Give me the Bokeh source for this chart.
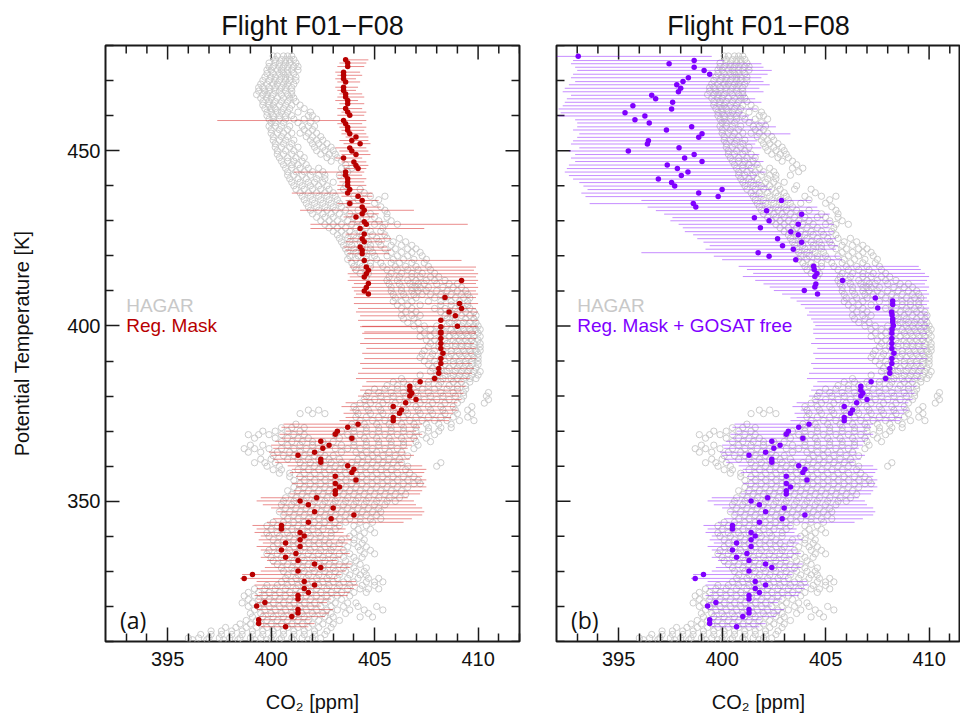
from bokeh.plotting import figure
from bokeh.layouts import row
from bokeh.models import FixedTicker, Label, Range1d
from bokeh.embed import file_html
from bokeh.resources import INLINE

# ---------------- data ----------------
x_ticks = [395, 400, 405, 410]
x_minor = [393, 394, 396, 397, 398, 399, 401, 402, 403, 404, 406, 407, 408, 409, 411, 412]
y_ticks = [350, 400, 450]
y_minor = [310, 320, 330, 340, 360, 370, 380, 390, 410, 420, 430, 440, 460, 470, 480]

# HAGAR in-situ CO2: theta levels and the CO2 values observed at each level
hagar_levels_odd = [477, 475, 473, 471, 469, 467, 465, 463, 461, 459, 457, 455, 453, 451, 449, 447, 445, 443,
                    441, 439, 437, 435, 433, 431, 429, 427, 425, 423, 421, 419, 417, 415, 413, 411, 409, 407,
                    405, 403, 401, 399, 397, 395, 393, 391, 389, 387, 385, 383, 381, 379, 377, 375, 373, 371,
                    369, 367, 365, 363, 361, 359, 357, 355, 353, 351, 349, 347, 345, 343, 341, 339, 337, 335,
                    333, 331, 329, 327, 325, 323, 321, 319, 317, 315, 313, 311]
hagar_co2_odd = [
    [400.1, 400.3, 400.6, 400.8, 401.0],
    [399.9, 400.2, 400.4, 400.7, 400.9, 401.2],
    [399.8, 400.0, 400.3, 400.5, 400.8, 401.0, 401.3],
    [399.7, 400.0, 400.2, 400.5, 400.7, 400.9, 401.2],
    [399.5, 399.8, 400.1, 400.3, 400.6, 400.8, 401.1],
    [399.4, 399.7, 399.9, 400.2, 400.4, 400.7, 401.0],
    [399.5, 399.8, 400.0, 400.3, 400.6, 400.9, 401.1],
    [399.6, 399.9, 400.1, 400.4, 400.7, 401.0, 401.4],
    [399.8, 400.0, 400.3, 400.5, 400.8, 401.3, 401.9],
    [399.9, 400.1, 400.4, 400.7, 401.1, 401.6, 402.2],
    [399.9, 400.2, 400.5, 400.9, 401.5, 401.8, 402.1],
    [400.0, 400.3, 400.6, 401.0, 401.4, 401.8, 402.2],
    [400.1, 400.4, 400.7, 401.1, 401.9, 402.2, 402.5],
    [400.2, 400.5, 400.9, 401.3, 402.1, 402.5, 402.9],
    [400.3, 400.6, 401.0, 401.4, 402.4, 402.8, 403.1],
    [400.5, 400.8, 401.1, 401.5, 402.9, 403.4],
    [400.7, 401.0, 401.4, 401.8, 402.3, 403.4, 403.9],
    [400.8, 401.1, 401.5, 401.9, 402.3, 402.6, 403.3],
    [401.0, 401.4, 401.8, 402.1, 402.5, 403.0],
    [401.2, 401.6, 402.0, 402.4, 402.8, 403.5, 404.3],
    [401.5, 401.9, 402.3, 402.7, 403.1, 404.0, 404.8, 405.5],
    [401.7, 402.1, 402.5, 402.9, 403.3, 403.8, 405.0],
    [401.9, 402.3, 402.7, 403.1, 403.6, 404.2, 405.5],
    [402.2, 402.6, 403.0, 403.5, 404.0, 404.6, 405.0, 405.6],
    [402.6, 403.0, 403.4, 403.9, 404.4, 405.0, 405.5, 406.1],
    [403.0, 403.4, 403.8, 404.3, 404.8, 405.3],
    [403.3, 403.7, 404.1, 404.6, 405.1, 405.6, 406.2],
    [403.5, 403.9, 404.4, 404.8, 405.3, 405.8, 406.3, 406.8],
    [403.7, 404.1, 404.5, 404.9, 405.8, 406.3, 406.8, 407.2],
    [403.7, 404.1, 404.6, 405.1, 405.9, 406.4, 406.9, 407.5],
    [404.0, 404.4, 404.8, 405.4, 406.0, 406.5, 407.0, 407.6],
    [404.3, 404.7, 405.8, 406.3, 406.8, 407.3, 407.9],
    [405.6, 406.1, 406.6, 407.0, 407.5, 407.9, 408.4],
    [405.8, 406.3, 406.8, 407.0, 407.2, 407.6, 408.3, 408.8, 409.2],
    [405.9, 406.4, 406.9, 407.3, 407.7, 408.2, 408.7, 409.2, 409.5],
    [405.9, 406.3, 406.8, 407.6, 408.2, 408.7, 409.1, 409.5],
    [406.3, 406.8, 407.9, 408.4, 408.9, 409.3, 409.6],
    [406.3, 406.8, 407.2, 408.4, 408.8, 409.2, 409.6, 409.9],
    [406.6, 407.1, 408.6, 409.0, 409.3, 409.6, 409.9],
    [407.2, 407.7, 408.2, 408.7, 409.0, 409.3, 409.6, 409.9, 410.1],
    [407.2, 407.7, 408.2, 408.6, 408.9, 409.2, 409.5, 409.8, 410.1],
    [407.7, 408.1, 408.5, 408.9, 409.2, 409.5, 409.8, 410.1],
    [407.4, 407.9, 408.3, 408.7, 409.0, 409.3, 409.6, 409.9, 410.1],
    [407.2, 407.7, 408.2, 408.6, 408.9, 409.2, 409.5, 409.8, 410.0],
    [407.6, 408.0, 408.4, 408.8, 409.1, 409.4, 409.7, 410.0],
    [407.7, 408.1, 408.5, 408.9, 409.2, 409.5, 409.8, 410.1],
    [406.3, 407.9, 408.3, 408.7, 409.0, 409.3, 409.6, 409.9],
    [405.6, 406.1, 406.6, 407.1, 407.6, 408.1, 408.6, 409.0, 409.4],
    [404.7, 405.2, 405.8, 406.4, 407.0, 407.6, 408.2, 408.8, 409.3, 410.5],
    [404.5, 405.0, 405.6, 406.2, 406.8, 407.4, 408.0, 408.6, 409.2, 410.5],
    [404.0, 404.6, 405.2, 405.8, 406.4, 407.0, 407.6, 408.2, 408.8, 409.7],
    [401.4, 402.0, 402.6, 404.2, 404.8, 405.4, 406.0, 406.6, 407.2, 407.8, 408.4, 409.0, 409.7],
    [404.3, 404.9, 405.5, 406.1, 406.7, 407.3, 407.9, 408.5, 409.1, 409.8],
    [400.5, 401.0, 401.6, 404.0, 404.6, 405.2, 405.8, 406.4, 407.0, 407.6, 408.2, 408.7],
    [398.9, 399.4, 399.9, 400.5, 401.1, 401.6, 403.1, 403.7, 404.3, 404.9, 405.5, 406.1, 406.7, 407.3, 407.9],
    [400.5, 401.0, 401.5, 402.0, 402.5, 403.0, 404.0, 404.6, 405.2, 405.8, 406.4, 407.0, 407.7],
    [398.7, 399.2, 399.9, 400.5, 401.1, 401.7, 402.3, 403.1, 403.7, 404.3, 404.9, 405.5, 406.1, 406.9],
    [400.1, 400.6, 401.1, 401.6, 402.1, 402.6, 403.0, 404.4, 404.9, 405.4, 406.0, 406.6],
    [399.2, 399.7, 400.2, 401.4, 401.9, 402.4, 402.9, 403.4, 403.9, 404.4, 404.9, 405.4, 405.9, 406.3, 408.2],
    [400.1, 400.5, 401.3, 401.8, 402.3, 402.8, 403.3, 403.8, 404.3, 404.8, 405.3, 405.8, 406.5],
    [400.9, 401.4, 401.9, 402.4, 402.9, 403.4, 403.9, 404.4, 404.9, 405.4, 405.9, 406.4, 406.9],
    [401.4, 401.9, 402.4, 402.9, 403.4, 403.9, 404.4, 404.9, 405.4, 405.9, 406.4, 406.9, 407.2],
    [400.8, 401.3, 401.8, 402.3, 402.8, 403.3, 403.8, 404.3, 404.8, 405.3, 405.8, 406.3],
    [400.7, 401.2, 401.7, 402.2, 402.7, 403.2, 403.7, 404.2, 404.7, 405.2, 405.7, 406.2],
    [400.5, 401.0, 401.5, 402.0, 402.5, 403.0, 403.5, 404.0, 404.5, 405.0, 405.5],
    [400.4, 400.9, 401.4, 401.9, 402.4, 402.9, 403.4, 403.9, 404.4, 404.9, 405.3],
    [400.8, 401.3, 401.8, 402.3, 402.8, 403.3, 403.8, 404.3, 404.8, 405.3],
    [399.8, 400.3, 400.8, 401.3, 401.8, 402.3, 402.8, 403.3, 404.0, 404.6],
    [399.8, 400.3, 400.8, 401.3, 401.8, 402.3, 402.9, 404.0, 404.5, 405.0],
    [400.1, 400.6, 401.1, 401.6, 402.1, 402.6, 403.4, 404.0, 404.5],
    [400.1, 400.6, 401.1, 401.6, 402.1, 402.6, 403.0, 403.7, 404.2, 404.6],
    [399.8, 400.3, 400.8, 401.3, 401.8, 402.3, 402.8, 403.3, 403.8, 404.5, 405.0],
    [400.1, 400.6, 401.1, 401.6, 402.1, 402.6, 403.1, 403.6, 404.1],
    [400.5, 401.0, 401.5, 402.0, 402.5, 403.0, 403.5, 404.0, 404.6],
    [400.8, 401.3, 401.8, 402.3, 402.8, 403.3, 403.8, 404.3, 404.6],
    [400.5, 401.0, 401.5, 402.0, 402.5, 403.0, 403.5, 404.0, 404.6, 405.0, 405.4],
    [399.2, 399.7, 400.2, 400.7, 401.2, 401.7, 402.2, 402.7, 403.2, 403.7, 404.3, 404.7, 405.2],
    [398.7, 399.2, 399.7, 400.2, 400.7, 401.2, 401.7, 402.2, 402.7, 403.2, 403.8],
    [398.6, 399.1, 399.6, 400.1, 400.6, 401.1, 401.6, 402.1, 402.6, 403.1, 403.7, 404.1],
    [399.2, 399.7, 400.2, 400.7, 401.2, 401.7, 402.2, 402.7, 403.2, 403.8, 404.5, 405.4],
    [399.1, 399.6, 400.1, 400.6, 401.1, 401.6, 402.1, 402.6, 403.0, 404.3, 404.9],
    [398.5, 399.0, 399.5, 400.0, 400.5, 401.0, 401.5, 402.0, 402.5, 403.0],
    [397.1, 397.6, 398.1, 398.6, 399.1, 399.6, 400.1, 400.6, 401.1, 401.6, 402.1, 402.7],
    [396.0, 396.5, 397.0, 397.5, 398.0, 398.5, 399.0, 399.5, 400.0, 400.5, 401.0, 401.5, 402.0, 402.4],
]
hagar_levels_even = [476, 474, 472, 470, 468, 466, 464, 462, 460, 458, 456, 454, 452, 450, 448, 446, 444, 442,
                     440, 438, 436, 434, 432, 430, 428, 426, 424, 422, 420, 418, 416, 414, 412, 410, 408, 406,
                     404, 402, 400, 398, 396, 394, 392, 390, 388, 386, 384, 382, 380, 378, 376, 374, 372, 370,
                     368, 366, 364, 362, 360, 358, 356, 354, 352, 350, 348, 346, 344, 342, 340, 338, 336, 334,
                     332, 330, 328, 326, 324, 322, 320, 318, 316, 314, 312, 310.5]
hagar_co2_even = [
    [400.2, 400.5, 400.7, 400.9, 401.1],
    [399.9, 400.1, 400.4, 400.6, 400.8, 401.1, 401.3],
    [399.8, 400.1, 400.4, 400.6, 400.8, 401.1],
    [399.6, 399.9, 400.2, 400.4, 400.7, 400.9, 401.2],
    [399.4, 399.6, 399.9, 400.2, 400.5, 400.7, 401.0],
    [399.3, 399.6, 399.8, 400.1, 400.5, 400.8, 401.0],
    [399.6, 399.9, 400.2, 400.5, 400.8, 401.2],
    [399.7, 400.0, 400.2, 400.6, 400.9, 401.6],
    [399.8, 400.1, 400.4, 400.7, 401.0, 401.8, 402.0],
    [400.0, 400.2, 400.6, 401.3, 401.9],
    [400.0, 400.4, 400.8, 401.6, 402.0],
    [400.1, 400.5, 400.8, 401.7, 402.0, 402.4],
    [400.2, 400.6, 401.0, 402.0, 402.3, 402.7],
    [400.3, 400.7, 401.1, 402.2, 402.6, 403.0],
    [400.4, 400.8, 401.2, 401.6, 402.7, 403.2],
    [400.6, 401.0, 401.3, 401.7, 403.6],
    [400.8, 401.2, 401.6, 402.0, 402.5, 403.7],
    [400.9, 401.3, 401.7, 402.2, 402.6],
    [401.1, 401.5, 401.9, 402.3, 402.7, 403.6],
    [401.4, 401.8, 402.2, 402.6, 403.0, 404.5],
    [401.6, 402.0, 402.4, 402.8, 403.2, 404.2, 405.2],
    [401.8, 402.2, 402.6, 403.0, 403.4, 405.3],
    [402.0, 402.5, 402.9, 403.3, 403.8, 404.8, 405.6],
    [402.4, 402.8, 403.2, 403.7, 404.2, 405.2, 405.8],
    [402.8, 403.2, 403.6, 404.1, 404.6, 405.4],
    [403.2, 403.6, 404.0, 404.4, 404.9, 405.5],
    [403.4, 403.8, 404.3, 404.7, 405.2, 405.9, 406.5],
    [403.6, 404.0, 404.4, 404.8, 405.5, 406.0, 406.6, 407.0],
    [403.8, 404.2, 404.6, 405.0, 405.6, 406.1, 406.6, 407.3],
    [403.9, 404.3, 404.8, 405.3, 405.8, 406.2, 406.8, 407.4],
    [404.1, 404.6, 405.6, 406.1, 406.6, 407.1, 407.7],
    [404.6, 405.7, 406.2, 406.8, 407.2, 407.7, 408.1],
    [405.7, 406.2, 406.7, 407.1, 407.4, 408.0, 408.6, 409.0],
    [405.8, 406.3, 406.8, 407.1, 407.5, 408.0, 408.5, 409.0, 409.4],
    [406.0, 406.5, 407.0, 407.9, 408.4, 408.9, 409.3, 409.6],
    [406.1, 406.6, 407.2, 408.2, 408.7, 409.1, 409.5],
    [406.5, 407.0, 408.2, 408.6, 409.0, 409.4, 409.8],
    [406.4, 406.9, 408.5, 408.9, 409.4, 409.8],
    [406.9, 407.4, 408.0, 408.5, 408.9, 409.2, 409.5, 409.8, 410.0],
    [407.4, 407.9, 408.4, 408.8, 409.1, 409.4, 409.7, 410.0],
    [407.5, 407.9, 408.4, 408.8, 409.1, 409.4, 409.7, 410.0],
    [407.6, 408.1, 408.5, 408.9, 409.2, 409.5, 409.8, 410.1],
    [407.3, 407.8, 408.3, 408.7, 409.1, 409.4, 409.7, 410.0],
    [407.4, 407.9, 408.4, 408.8, 409.1, 409.4, 409.7, 410.0],
    [407.8, 408.2, 408.6, 409.0, 409.3, 409.6, 409.9],
    [407.2, 408.0, 408.4, 408.8, 409.1, 409.4, 409.7, 410.0],
    [405.9, 406.4, 407.0, 407.6, 408.2, 408.8, 409.2, 409.6],
    [405.0, 405.5, 406.1, 406.7, 407.3, 407.9, 408.5, 409.0, 409.4],
    [404.6, 405.3, 405.9, 406.5, 407.1, 407.7, 408.3, 408.9, 409.3, 410.4],
    [404.3, 404.8, 405.4, 406.0, 406.6, 407.2, 407.8, 408.4, 409.0, 410.3],
    [401.8, 402.3, 404.1, 404.7, 405.3, 405.9, 406.5, 407.1, 407.7, 408.3, 408.9, 409.5],
    [404.1, 404.6, 405.2, 405.8, 406.4, 407.0, 407.6, 408.2, 408.8, 409.5],
    [401.2, 403.9, 404.5, 405.1, 405.7, 406.3, 406.9, 407.5, 408.1, 408.7],
    [399.6, 400.2, 400.8, 401.4, 403.4, 404.0, 404.6, 405.2, 405.8, 406.4, 407.0, 407.6, 408.1],
    [399.2, 400.2, 400.8, 401.3, 401.8, 403.3, 403.9, 404.5, 405.1, 405.7, 406.3, 406.9, 407.5],
    [399.0, 399.6, 400.8, 401.4, 402.0, 402.6, 403.4, 404.0, 404.6, 405.2, 405.8, 406.4, 407.1],
    [398.9, 399.5, 400.3, 400.9, 401.4, 401.9, 402.4, 403.4, 404.1, 404.6, 405.1, 405.7, 406.3],
    [399.5, 400.0, 400.8, 401.3, 401.8, 402.3, 402.8, 403.3, 404.2, 404.7, 405.2, 405.7, 406.2],
    [399.8, 400.4, 401.6, 402.1, 402.6, 403.1, 403.6, 404.1, 404.6, 405.1, 405.6, 406.1, 406.6, 408.0],
    [400.4, 400.9, 401.6, 402.1, 402.6, 403.1, 403.6, 404.1, 404.6, 405.1, 405.6, 406.1, 406.7],
    [401.1, 401.6, 402.1, 402.6, 403.1, 403.6, 404.1, 404.6, 405.1, 405.6, 406.1, 406.6, 407.1],
    [401.1, 401.6, 402.1, 402.6, 403.1, 403.6, 404.1, 404.6, 405.1, 405.6, 406.1, 406.6],
    [401.0, 401.5, 402.0, 402.5, 403.0, 403.5, 404.0, 404.5, 405.0, 405.5, 406.0, 406.5],
    [400.6, 401.1, 401.6, 402.1, 402.6, 403.1, 403.6, 404.1, 404.6, 405.1, 405.6, 406.0],
    [400.7, 401.2, 401.7, 402.2, 402.7, 403.2, 403.7, 404.2, 404.7, 405.2],
    [400.6, 401.1, 401.6, 402.1, 402.6, 403.1, 403.6, 404.1, 404.6, 405.1],
    [400.1, 400.6, 401.1, 401.6, 402.1, 402.6, 403.1, 403.6, 404.3, 404.9],
    [400.0, 400.5, 401.0, 401.5, 402.0, 402.5, 403.1, 404.2, 404.8],
    [399.9, 400.4, 400.9, 401.4, 401.9, 402.4, 402.9, 403.8, 404.3],
    [400.3, 400.8, 401.3, 401.8, 402.3, 402.8, 403.3, 404.0, 404.4],
    [399.9, 400.4, 400.9, 401.4, 401.9, 402.4, 402.9, 403.5, 404.3, 404.8],
    [400.0, 400.5, 401.0, 401.5, 402.0, 402.5, 403.0, 403.5, 404.0, 404.4],
    [400.3, 400.8, 401.3, 401.8, 402.3, 402.8, 403.3, 403.8, 404.3],
    [400.6, 401.1, 401.6, 402.1, 402.6, 403.1, 403.6, 404.1, 404.5],
    [400.7, 401.2, 401.7, 402.2, 402.7, 403.2, 403.7, 404.2, 404.7, 405.2],
    [399.8, 400.3, 400.8, 401.3, 401.8, 402.3, 402.8, 403.3, 403.8, 404.4, 405.0],
    [398.9, 399.4, 399.9, 400.4, 400.9, 401.4, 401.9, 402.4, 402.9, 403.4, 404.0, 404.6],
    [398.9, 399.4, 399.9, 400.4, 400.9, 401.4, 401.9, 402.4, 402.9, 403.4],
    [398.9, 399.4, 399.9, 400.4, 400.9, 401.4, 401.9, 402.4, 402.9, 403.5, 404.2, 405.1],
    [399.0, 399.5, 400.0, 400.5, 401.0, 401.5, 402.0, 402.5, 402.9, 403.6, 404.7],
    [398.8, 399.3, 399.8, 400.3, 400.8, 401.3, 401.8, 402.3, 402.8, 403.3],
    [397.8, 398.3, 398.8, 399.3, 399.8, 400.3, 400.8, 401.3, 401.8, 402.3, 402.9],
    [396.6, 397.1, 397.6, 398.1, 398.6, 399.1, 399.6, 400.1, 400.6, 401.1, 401.6, 402.1, 402.6],
    [396.2, 396.9, 397.7, 398.4, 399.2, 399.8, 400.4, 401.1, 401.8],
]

# Panel (a) "Reg. Mask": upper part (theta, CO2, bar low, bar high)
upper_a_theta = [475.9, 475.0, 474.0, 472.4, 471.5, 470.5, 469.6, 468.1, 467.2, 466.2, 465.3, 464.3, 463.4,
                 462.0, 461.0, 460.1, 458.6, 457.7, 456.7, 455.8, 454.8, 453.9, 452.9, 452.0, 450.8, 449.9,
                 448.9, 447.9, 446.8, 445.8, 444.9, 443.9, 443.0, 442.0, 441.1, 440.1, 438.9, 437.9, 437.0,
                 435.8, 434.9, 433.9, 433.0, 432.0, 431.1, 429.7, 429.0, 427.8, 426.2, 424.9, 424.0, 422.5,
                 421.6, 420.6, 418.7, 416.8, 415.9, 414.9, 414.0, 412.1, 411.0, 410.0, 409.1,
                 413.0, 408.1, 406.4, 405.0, 404.0, 402.9, 401.6, 399.9, 399.8, 398.3]
upper_a_co2 = [403.6, 403.7, 403.7, 403.5, 403.5, 403.5, 403.6, 403.5, 403.5, 403.6, 403.6, 403.7, 403.7,
               403.6, 403.7, 403.8, 403.5, 403.6, 403.7, 403.7, 403.8, 404.1, 403.9, 404.3, 403.8, 403.9,
               404.1, 403.5, 404.0, 404.1, 404.2, 403.6, 403.6, 403.7, 403.7, 403.7, 403.8, 403.7, 404.2,
               404.4, 403.8, 404.4, 404.5, 404.4, 404.1, 404.5, 404.6, 404.3, 404.5, 404.4, 404.5, 404.3,
               404.4, 404.4, 404.5, 404.6, 404.7, 404.6, 404.5, 404.7, 404.6, 404.5, 404.7,
               409.2, 408.4, 409.1, 409.2, 408.6, 408.9, 408.2, 409.0, 408.2, 408.2]
upper_a_lo = [403.6, 403.3, 403.2, 403.1, 403.2, 403.1, 403.2, 403.1, 403.2, 403.3, 403.2, 403.1, 403.3,
              403.2, 403.4, 403.2, 397.4, 403.2, 403.3, 403.4, 403.4, 403.6, 403.3, 403.5, 403.1, 403.3,
              403.4, 403.1, 403.4, 403.5, 403.5, 401.1, 403.2, 403.2, 403.3, 403.2, 403.2, 401.0, 403.4,
              403.6, 403.2, 403.6, 401.4, 403.7, 403.5, 403.8, 401.9, 401.9, 403.6, 403.7, 403.6, 403.5,
              403.6, 403.7, 403.7, 403.8, 403.9, 403.7, 403.8, 404.0, 403.9, 404.0, 404.1,
              403.7, 404.0, 404.0, 404.2, 404.1, 404.3, 404.2, 404.4, 404.3, 404.5]
upper_a_hi = [404.7, 404.6, 404.5, 404.3, 404.4, 404.1, 404.3, 404.2, 404.1, 404.4, 404.5, 404.2, 404.5,
              404.4, 404.6, 404.5, 404.6, 404.4, 404.6, 404.5, 404.6, 404.7, 404.7, 404.8, 404.6, 404.7,
              404.8, 404.4, 404.6, 404.7, 404.6, 404.5, 404.4, 404.6, 404.5, 404.6, 404.5, 404.9, 404.9,
              405.2, 404.8, 405.3, 406.9, 405.2, 405.0, 405.4, 409.5, 407.4, 405.6, 405.8, 405.5, 405.6,
              405.8, 405.7, 409.2, 409.9, 409.8, 410.0, 409.9, 409.9, 410.0, 409.9, 410.0,
              410.0, 409.9, 410.0, 409.9, 410.0, 409.9, 410.0, 409.9, 410.0, 409.9]

# Panel (b) "Reg. Mask + GOSAT free": upper part
upper_b_theta = [476.9, 475.7, 474.8, 473.8, 472.9, 471.8, 470.8, 469.7, 468.8, 467.8, 466.8, 465.8, 464.8,
                 463.8, 462.8, 461.9, 460.8, 459.9, 458.8, 457.9, 456.8, 455.9, 454.8, 453.8, 452.8, 451.9,
                 450.8, 449.9, 448.9, 447.9, 446.9, 445.9, 444.9, 443.9, 442.9, 441.9, 440.9, 439.9, 438.9,
                 437.9, 436.9, 435.8, 434.9, 433.9, 432.9, 431.9, 430.9, 430.0, 429.0, 428.0, 426.9, 426.0,
                 424.9, 423.9, 422.9, 421.9, 420.9, 419.9, 418.9, 417.0, 416.1, 415.0, 414.1, 413.0, 412.0,
                 411.1, 410.1, 409.1, 408.0, 407.1, 406.1, 405.1, 404.0, 403.1, 402.0, 401.1, 400.1, 399.1]
upper_b_co2 = [393.05, 398.65, 397.44, 398.65, 399.13, 399.40, 398.37, 398.11, 397.81, 398.0, 397.89, 396.60,
               396.79, 397.61, 395.69, 397.56, 395.31, 396.27, 395.79, 396.48, 398.53, 397.31, 399.03, 398.87,
               396.44, 396.39, 397.92, 395.47, 398.65, 398.19, 399.03, 397.35, 397.84, 398.35, 398.03, 396.92,
               397.56, 397.71, 400.0, 398.87, 399.81, 402.87, 398.61, 398.73, 402.15, 403.84, 401.56, 402.27,
               403.68, 401.85, 403.32, 403.68, 402.68, 403.84, 402.92, 403.44, 401.74, 402.27, 403.56, 404.42,
               404.45, 404.58, 404.48, 405.82, 404.53, 404.48, 403.97, 404.61, 407.40, 408.24, 408.24, 407.52,
               408.19, 408.21, 408.24, 408.24, 408.27, 408.21]
upper_b_lo = [392.0, 392.8, 392.7, 392.9, 393.0, 392.8, 392.7, 392.9, 392.6, 392.4, 392.3, 392.7, 392.5,
              392.4, 392.3, 392.1, 392.2, 392.1, 392.9, 393.0, 393.0, 392.8, 393.1, 393.0, 392.8, 392.7,
              393.1, 392.6, 392.9, 392.7, 392.9, 392.6, 392.5, 392.4, 392.6, 392.8, 393.1, 393.3, 393.5,
              393.2, 393.4, 396.1, 393.6, 396.4, 396.8, 397.2, 397.6, 397.5, 397.9, 398.1, 398.2, 398.6,
              398.8, 399.1, 399.4, 399.2, 396.1, 399.6, 400.0, 400.8, 401.2, 401.5, 401.0, 401.6, 402.0,
              402.3, 402.5, 402.9, 403.3, 403.6, 403.8, 404.0, 404.2, 404.1, 404.3, 404.4, 404.5, 404.4]
upper_b_hi = [399.5, 400.1, 401.9, 402.0, 402.4, 402.2, 401.9, 402.0, 402.3, 401.8, 402.0, 401.2, 401.6,
              401.9, 400.9, 401.7, 401.0, 401.3, 401.5, 402.2, 402.6, 402.0, 403.3, 401.8, 401.7, 401.6,
              401.9, 401.4, 401.8, 401.7, 402.0, 401.8, 401.5, 402.1, 401.7, 401.6, 401.9, 402.2, 402.4,
              401.8, 402.0, 404.3, 402.1, 404.6, 404.7, 405.2, 404.9, 405.3, 405.4, 405.2, 405.4, 405.3,
              405.5, 405.4, 405.6, 405.5, 404.4, 405.7, 405.8, 409.5, 409.6, 409.8, 410.0, 409.9, 409.8,
              410.0, 409.9, 410.0, 409.9, 410.0, 409.9, 410.0, 409.9, 410.0, 410.0, 409.9, 410.0, 409.9]

# Lower part (below ~398 K), common to both panels
lower_theta = [397.9, 396.4, 395.0, 393.6, 392.2, 390.7, 389.3, 387.9, 386.5, 385.0,
               384.1, 382.8, 381.7, 380.8, 380.0, 379.0, 378.1, 377.0, 376.0, 375.1, 373.9, 373.0,
               372.0, 371.1, 370.0, 369.1, 368.0, 367.1, 366.0, 365.1, 364.0, 363.1, 362.0, 361.1,
               360.1, 359.1, 358.2, 357.1, 356.1, 355.1, 354.1, 353.0, 352.1, 351.0, 350.1,
               349.0, 348.1, 347.0, 346.1, 345.0, 344.0, 343.1, 342.1, 341.1, 340.1,
               339.0, 338.1, 337.1, 336.1, 335.1, 334.0, 333.1, 332.1, 331.1, 330.1,
               329.1, 328.0, 327.1, 326.1, 325.1, 324.0, 323.1, 322.1, 321.1, 320.1,
               319.1, 318.1, 317.1, 316.2, 315.1, 314.2]
lower_co2 = [408.2, 408.2, 408.2, 408.2, 408.3, 408.2, 408.2, 408.1, 408.1, 407.9,
             407.2, 406.7, 406.7, 406.8, 406.7, 407.0, 406.5, 405.9, 406.3, 406.2, 405.9, 405.9,
             404.2, 403.7, 403.2, 403.1, 403.9, 402.4, 402.8, 402.5, 402.1, 401.3, 402.4, 402.4,
             403.7, 404.0, 403.9, 403.1, 404.1, 403.1, 403.3, 403.1, 403.1, 402.2, 401.4,
             401.8, 403.0, 402.1, 404.0, 402.9, 401.8, 400.5, 400.5, 401.4, 401.6,
             401.4, 400.7, 401.4, 400.5, 401.2, 400.7, 401.3, 402.1, 402.4, 401.3,
             399.1, 398.7, 401.6, 402.1, 401.6, 401.8, 401.3, 401.3, 399.7, 399.3,
             401.3, 401.3, 401.0, 399.4, 399.4, 400.7]
lower_lo = [404.4, 404.5, 404.3, 404.6, 404.4, 404.5, 404.3, 404.4, 404.2, 404.1,
            404.6, 404.4, 404.3, 404.5, 404.2, 404.4, 403.6, 403.4, 403.8, 403.5, 403.6, 403.3,
            400.6, 400.5, 400.7, 400.4, 400.5, 400.2, 400.0, 400.1, 399.9, 400.0, 400.1, 400.2,
            400.8, 401.0, 400.9, 401.2, 401.3, 401.0, 401.2, 401.1, 400.9, 399.5, 399.3,
            399.6, 400.0, 400.3, 400.5, 400.1, 399.8, 399.1, 399.3, 399.2, 399.5,
            399.4, 399.6, 399.3, 399.5, 399.7, 399.5, 399.8, 400.0, 399.7, 399.5,
            398.6, 398.5, 399.3, 399.2, 399.3, 399.4, 399.2, 399.3, 399.3, 399.2,
            399.3, 399.5, 399.4, 399.3, 399.4, 399.5]
lower_hi = [409.9, 409.9, 409.8, 409.9, 409.8, 409.9, 409.7, 409.8, 409.7, 409.6,
            409.3, 409.4, 409.2, 409.3, 409.1, 409.2, 409.0, 408.9, 409.0, 408.8, 408.7, 408.6,
            407.3, 407.2, 407.0, 407.3, 407.1, 406.9, 406.8, 406.6, 406.5, 406.9, 406.7, 406.4,
            407.3, 407.5, 407.4, 407.3, 407.5, 407.4, 407.5, 407.3, 407.2, 406.6, 406.9,
            407.0, 407.3, 407.4, 407.3, 406.8, 406.4, 403.4, 403.6, 403.5, 403.8,
            403.9, 403.7, 403.5, 403.6, 403.8, 403.4, 403.2, 403.9, 403.8, 403.6,
            403.4, 403.2, 404.1, 404.2, 404.0, 403.8, 403.7, 402.9, 402.7, 402.4,
            403.0, 402.8, 402.6, 401.9, 402.1, 401.8]

# ---------------- helpers ----------------
hx, hy = [], []
for levels, rows_ in ((hagar_levels_odd, hagar_co2_odd), (hagar_levels_even, hagar_co2_even)):
    for lev, vals in zip(levels, rows_):
        for v in vals:
            hx.append(v)
            hy.append(lev)

FONT = "Liberation Sans"
INK = "#1a1a1a"
X_START, Y_START, Y_END = 392, 310, 480
FRAME_H = 596
PPM_PX = 20.7                      # pixels per ppm (both panels)
PPK_PX = FRAME_H / (Y_END - Y_START)  # pixels per kelvin
MAJ_LEN, MIN_LEN = 14, 8


def style_axis(ax):
    ax.axis_line_color = None
    ax.major_tick_in = MAJ_LEN
    ax.major_tick_out = 0
    ax.minor_tick_in = MIN_LEN
    ax.minor_tick_out = 0
    ax.major_tick_line_width = 1.5
    ax.minor_tick_line_width = 1.5
    ax.major_tick_line_color = INK
    ax.minor_tick_line_color = INK
    ax.major_label_text_font = FONT
    ax.major_label_text_font_size = "20px"
    ax.major_label_text_color = "#111111"
    ax.axis_label_text_font = FONT
    ax.axis_label_text_font_size = "20px"
    ax.axis_label_text_font_style = "normal"
    ax.axis_label_text_color = "#111111"


def add_inner_ticks(p, side, x_end):
    """Inward tick marks on a side that carries no labels (top, right or left)."""
    x0s, x1s, y0s, y1s = [], [], [], []
    if side == "top":
        for t in x_ticks + x_minor:
            L = MAJ_LEN if t in x_ticks else MIN_LEN
            x0s.append(t); x1s.append(t)
            y0s.append(Y_END); y1s.append(Y_END - L / PPK_PX)
    else:
        edge = x_end if side == "right" else X_START
        sign = -1 if side == "right" else 1
        for t in y_ticks + y_minor:
            L = MAJ_LEN if t in y_ticks else MIN_LEN
            x0s.append(edge); x1s.append(edge + sign * L / PPM_PX)
            y0s.append(t); y1s.append(t)
    p.segment(x0=x0s, y0=y0s, x1=x1s, y1=y1s, line_color=INK, line_width=1.5)


def make_panel(theta, co2, lo, hi, dot_color, bar_color, legend_text, tag, first, x_end):
    fw = int(round((x_end - X_START) * PPM_PX))
    p = figure(frame_width=fw, frame_height=FRAME_H,
               x_range=Range1d(X_START, x_end), y_range=Range1d(Y_START, Y_END),
               output_backend="svg", toolbar_location=None,
               min_border_left=105 if first else 27, min_border_right=10 if first else 0,
               min_border_top=45, min_border_bottom=70,
               outline_line_color=INK, outline_line_width=2,
               background_fill_color="white", border_fill_color="white")
    p.grid.visible = False
    p.title.text = "Flight F01\u2212F08"
    p.title.align = "center"
    p.title.text_font = FONT
    p.title.text_font_size = "27px"
    p.title.text_font_style = "normal"
    p.title.text_color = "#111111"
    p.title.standoff = 9

    p.xaxis.ticker = FixedTicker(ticks=x_ticks, minor_ticks=x_minor)
    p.yaxis.ticker = FixedTicker(ticks=y_ticks, minor_ticks=y_minor)
    p.xaxis.axis_label = "CO\u2082 [ppm]"
    style_axis(p.xaxis[0])
    p.xaxis.major_label_standoff = 10
    p.xaxis.axis_label_standoff = 22
    if first:
        style_axis(p.yaxis[0])
        p.yaxis.axis_label = "Potential Temperature [K]"
        p.yaxis.major_label_standoff = 5
        p.yaxis.axis_label_standoff = 31
        add_inner_ticks(p, "right", x_end)
    else:
        p.yaxis.visible = False
        add_inner_ticks(p, "left", x_end)
    add_inner_ticks(p, "top", x_end)

    p.scatter(hx, hy, marker="circle", size=6.3, fill_color=None,
              line_color="#c6c6c6", line_width=0.9)
    p.segment(x0=lo, y0=theta, x1=hi, y1=theta, line_color=bar_color,
              line_alpha=0.45, line_width=1)
    p.scatter(co2, theta, marker="circle", size=5.5, fill_color=dot_color, line_color=None)

    p.add_layout(Label(x=393.0, y=405.8, text="HAGAR", text_font=FONT, text_font_size="19px",
                       text_color="#c8c8c8", text_baseline="alphabetic"))
    p.add_layout(Label(x=393.0, y=400.1, text=legend_text, text_font=FONT, text_font_size="19px",
                       text_color=dot_color, text_baseline="alphabetic"))
    p.add_layout(Label(x=392.7, y=316.0, text=tag, text_font="Open Sans", text_font_size="23px",
                       text_color="#111111", text_baseline="alphabetic"))
    return p


pa = make_panel(upper_a_theta + lower_theta, upper_a_co2 + lower_co2,
                upper_a_lo + lower_lo, upper_a_hi + lower_hi,
                "#b80000", "#d00000", "Reg. Mask", "(a)", True, 412.0)
pb = make_panel(upper_b_theta + lower_theta, upper_b_co2 + lower_co2,
                upper_b_lo + lower_lo, upper_b_hi + lower_hi,
                "#7f00ff", "#8000ff", "Reg. Mask + GOSAT free", "(b)", False, X_START + 404 / PPM_PX)

layout = row(pa, pb)
open("out.html", "w").write(file_html(layout, INLINE))
